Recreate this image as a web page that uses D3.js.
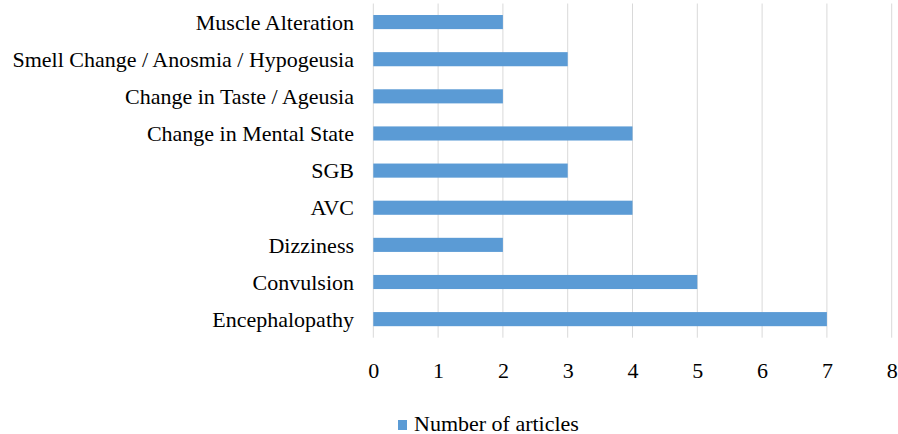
<!DOCTYPE html>
<html>
<head>
<meta charset="utf-8">
<script src="https://cdn.jsdelivr.net/npm/d3@7"></script>
<style>
  body { margin: 0; background: #fff; }
  svg text { font-family: "Liberation Serif", "Times New Roman", serif; fill: #000; }
</style>
</head>
<body>
<svg id="graphic" width="898" height="434"></svg>
<script>
const categories = [
  'Muscle Alteration',
  'Smell Change / Anosmia / Hypogeusia',
  'Change in Taste / Ageusia',
  'Change in Mental State',
  'SGB',
  'AVC',
  'Dizziness',
  'Convulsion',
  'Encephalopathy',
];
const articles = [2, 3, 2, 4, 3, 4, 2, 5, 7];
const xTicks = [0, 1, 2, 3, 4, 5, 6, 7, 8];
const seriesName = 'Number of articles';

const dta = categories.map((c, i) => ({category: c, value: articles[i]}));

const margins = {top: 3.5, left: 373.3, right: 6, bottom: 96};
const width = 891.7 - margins.left;
const height = 337.7 - margins.top;
const barColor = '#5b9bd5';
const fontSize = '22px';

const svg = d3.select('#graphic');
const g = svg.append('g').attr('transform', `translate(${margins.left}, ${margins.top})`);

const xScale = d3.scaleLinear().domain([0, 8]).range([0, width]);
const yScale = d3.scaleBand().domain(categories).range([0, height]).paddingInner(0.62).paddingOuter(0.31);

// gridlines
g.selectAll('.grid')
    .data(xTicks)
    .enter()
    .append('line')
    .attr('x1', (d) => xScale(d))
    .attr('x2', (d) => xScale(d))
    .attr('y1', 0)
    .attr('y2', height)
    .attr('stroke', '#d9d9d9')
    .attr('stroke-width', 1);

g.selectAll('.data_point')
    .data(dta)
    .enter()
    .append('rect')
    .classed('data_point', true)
    .attr('x', xScale(0))
    .attr('y', (d) => yScale(d.category))
    .attr('width', (d) => xScale(d.value) - xScale(0))
    .attr('height', yScale.bandwidth())
    .attr('fill', barColor);

// category labels
g.selectAll('.cat')
    .data(categories)
    .enter()
    .append('text')
    .attr('x', -19.3)
    .attr('y', (d) => yScale(d) + yScale.bandwidth() / 2)
    .attr('dy', '0.35em')
    .attr('text-anchor', 'end')
    .style('font-size', fontSize)
    .text((d) => d);

// x axis labels
const xAxis = d3.axisBottom(xScale).tickValues(xTicks).tickSize(0).tickPadding(0);
const xg = g.append('g')
    .attr('transform', `translate(0, ${370.5 - margins.top})`)
    .call(xAxis);
xg.select('.domain').remove();
xg.selectAll('text')
    .attr('y', 0)
    .attr('dy', '0.35em')
    .style('font-size', fontSize)
    .style('font-family', '"Liberation Serif", "Times New Roman", serif')
    .attr('fill', '#000');

// legend
const legend = svg.append('g').attr('transform', 'translate(398, 420)');
legend.append('rect').attr('width', 9).attr('height', 10).attr('fill', barColor);
legend.append('text')
    .attr('x', 16)
    .attr('y', 11.3)
    .style('font-size', fontSize)
    .text(seriesName);
</script>
</body>
</html>
